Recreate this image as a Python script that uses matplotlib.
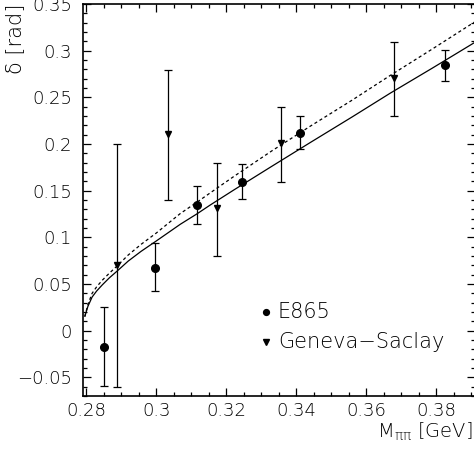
import matplotlib
matplotlib.use("Agg")
import matplotlib.pyplot as plt
from matplotlib.ticker import MultipleLocator

plt.rcParams['font.family'] = ['DejaVu Sans']
plt.rcParams['font.weight'] = 'light'
plt.rcParams['mathtext.fontset'] = 'custom'
plt.rcParams['mathtext.rm'] = 'DejaVu Sans:light'
plt.rcParams['mathtext.it'] = 'DejaVu Sans:light'

# E865 data
e865_x = [0.2852, 0.2997, 0.3116, 0.3244, 0.3410, 0.3825]
e865_y = [-0.017, 0.0675, 0.1347, 0.1597, 0.2122, 0.2843]
e865_lo = [-0.059, 0.042, 0.114, 0.1408, 0.1944, 0.2676]
e865_hi = [0.025, 0.094, 0.155, 0.1786, 0.230, 0.3008]

# Geneva-Saclay data
gs_x = [0.2889, 0.3033, 0.3173, 0.3356, 0.3680]
gs_y = [0.0703, 0.2107, 0.131, 0.2008, 0.271]
gs_lo = [-0.0603, 0.140, 0.080, 0.1597, 0.230]
gs_hi = [0.200, 0.2797, 0.180, 0.240, 0.3097]

# curves
solid_x = [0.2796, 0.2805, 0.2817, 0.2830, 0.2846, 0.2866, 0.2889, 0.2920, 0.2957,
           0.3000, 0.3069, 0.3116, 0.3154, 0.3223, 0.3330, 0.3440, 0.3560, 0.3669,
           0.3790, 0.3911]
solid_y = [0.015, 0.026, 0.036, 0.0425, 0.049, 0.0565, 0.064, 0.0745, 0.085,
           0.096, 0.114, 0.125, 0.1345, 0.151, 0.176, 0.2015, 0.229, 0.2545,
           0.2815, 0.309]
dash_x = [0.2796, 0.2805, 0.2817, 0.2830, 0.2846, 0.2866, 0.2889, 0.2920, 0.2957,
          0.3000, 0.3069, 0.3116, 0.3154, 0.3223, 0.3330, 0.3440, 0.3560, 0.3669,
          0.3790, 0.3911]
dash_y = [0.015, 0.028, 0.040, 0.047, 0.054, 0.0615, 0.0695, 0.081, 0.0925,
          0.1045, 0.1255, 0.1375, 0.1475, 0.1655, 0.1925, 0.219, 0.247, 0.2735,
          0.302, 0.331]

fig = plt.figure(figsize=(4.74, 4.54), dpi=100)
ax = fig.add_axes([83/474, 58/454, 392/474, 392/454])

ax.plot(solid_x, solid_y, color='black', lw=0.9, solid_capstyle='butt')
ax.plot(dash_x, dash_y, color='black', lw=0.9, linestyle=(0, (2.5, 2.2)))

e_err = [[y - lo for y, lo in zip(e865_y, e865_lo)], [hi - y for y, hi in zip(e865_y, e865_hi)]]
g_err = [[y - lo for y, lo in zip(gs_y, gs_lo)], [hi - y for y, hi in zip(gs_y, gs_hi)]]
ax.errorbar(e865_x, e865_y, yerr=e_err, fmt='o', color='black', ms=5.5,
            elinewidth=0.9, capsize=2.8, capthick=0.9)
ax.errorbar(gs_x, gs_y, yerr=g_err, fmt='v', color='black', ms=5.0,
            elinewidth=0.9, capsize=2.8, capthick=0.9)

ax.set_xlim(0.2791, 0.3911)
ax.set_ylim(-0.07, 0.35)

fmt = matplotlib.ticker.FuncFormatter(lambda v, p: ('%g' % round(v, 3)).replace('-', '\u2212'))
ax.xaxis.set_major_locator(MultipleLocator(0.02))
ax.xaxis.set_minor_locator(MultipleLocator(0.005))
ax.yaxis.set_major_locator(MultipleLocator(0.05))
ax.yaxis.set_minor_locator(MultipleLocator(0.01))
ax.xaxis.set_major_formatter(fmt)
ax.yaxis.set_major_formatter(fmt)
ax.tick_params(which='both', direction='in', top=True, right=True, width=0.9)
ax.tick_params(which='major', length=5.8, labelsize=13)
ax.tick_params(axis='x', which='major', pad=4)
ax.tick_params(axis='y', which='major', pad=8)
ax.tick_params(which='minor', length=3.2)
for s in ax.spines.values():
    s.set_linewidth(1.2)

# legend
ax.plot([0.467], [0.2143], 'o', color='black', ms=4.2, transform=ax.transAxes, clip_on=False)
ax.plot([0.467], [0.1378], 'v', color='black', ms=4.0, transform=ax.transAxes, clip_on=False)
ax.text(0.497, 0.2143, 'E865', transform=ax.transAxes, fontsize=15, va='center', ha='left')
ax.text(0.497, 0.1378, 'Geneva\u2212Saclay', transform=ax.transAxes, fontsize=15, va='center', ha='left')

fig.text(15/474, 1 - 4/454, '\u03b4 [rad]', rotation=90, ha='center', va='top', fontsize=15)
fig.text(473/474, 1 - 432/454, 'M$_{\\pi\\pi}$ [GeV]', ha='right', va='center', fontsize=14)

fig.savefig('out.png', dpi=100)
